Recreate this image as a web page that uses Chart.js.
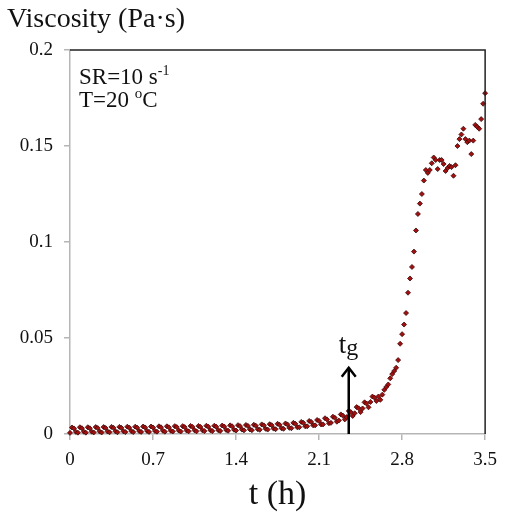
<!DOCTYPE html>
<html>
<head>
<meta charset="utf-8">
<script src="https://cdn.jsdelivr.net/npm/chart.js@4/dist/chart.umd.min.js"></script>
<style>
  html, body { margin: 0; padding: 0; background: #fff; }
  canvas { display: block; }
</style>
</head>
<body>
<canvas id="grafico" width="506" height="522"></canvas>
<script>
// viscosity readings, one per minute from t = 0 to 3.5 h
const minutesPerSample = 1;
const viscosity = [
  0.0006, 0.0034, 0.0029, 0.0011,
  0.0007, 0.0035, 0.0030, 0.0012,
  0.0007, 0.0035, 0.0030, 0.0012,
  0.0008, 0.0036, 0.0031, 0.0013,
  0.0008, 0.0036, 0.0031, 0.0013,
  0.0009, 0.0037, 0.0032, 0.0014,
  0.0009, 0.0037, 0.0032, 0.0014,
  0.0010, 0.0038, 0.0033, 0.0015,
  0.0010, 0.0038, 0.0033, 0.0015,
  0.0011, 0.0039, 0.0034, 0.0016,
  0.0011, 0.0039, 0.0034, 0.0016,
  0.0012, 0.0040, 0.0035, 0.0017,
  0.0012, 0.0040, 0.0035, 0.0017,
  0.0013, 0.0041, 0.0036, 0.0018,
  0.0013, 0.0041, 0.0036, 0.0018,
  0.0014, 0.0042, 0.0037, 0.0019,
  0.0014, 0.0042, 0.0037, 0.0019,
  0.0015, 0.0043, 0.0038, 0.0020,
  0.0015, 0.0043, 0.0038, 0.0020,
  0.0016, 0.0044, 0.0039, 0.0021,
  0.0017, 0.0045, 0.0040, 0.0022,
  0.0018, 0.0046, 0.0041, 0.0023,
  0.0019, 0.0047, 0.0042, 0.0024,
  0.0020, 0.0048, 0.0043, 0.0025,
  0.0022, 0.0050, 0.0045, 0.0027,
  0.0023, 0.0051, 0.0046, 0.0028,
  0.0025, 0.0053, 0.0048, 0.0030,
  0.0027, 0.0055, 0.0050, 0.0032,
  0.0030, 0.0058, 0.0053, 0.0035,
  0.0035, 0.0063, 0.0058, 0.0040,
  0.0040, 0.0068, 0.0063, 0.0045,
  0.0045, 0.0073, 0.0068, 0.0050,
  0.0050, 0.0082, 0.0076, 0.0056,
  0.0058, 0.0090, 0.0084, 0.0064,
  0.0070, 0.0102, 0.0096, 0.0076,
  0.0088, 0.0120, 0.0114, 0.0094,
  0.0108, 0.0140, 0.0134, 0.0114,
  0.0133, 0.0165, 0.0159, 0.0139,
  0.0167, 0.0195, 0.0190, 0.0172,
  0.0195, 0.0178, 0.0205, 0.0230,
  0.0245, 0.0258, 0.0290, 0.0312,
  0.0328, 0.0345, 0.0385, 0.0470,
  0.0520, 0.0570, 0.0630, 0.0736,
  0.0810, 0.0870, 0.0950, 0.1060,
  0.1146, 0.1200, 0.1250, 0.1320,
  0.1375, 0.1360, 0.1375, 0.1410,
  0.1440, 0.1427, 0.1380, 0.1427,
  0.1427, 0.1406, 0.1370, 0.1385,
  0.1396, 0.1390, 0.1345, 0.1400,
  0.1500, 0.1536, 0.1560, 0.1590,
  0.1536, 0.1520, 0.1528, 0.1458,
  0.1528, 0.1610, 0.1600, 0.1590,
  0.1640, 0.1720, 0.1775
];
const xTicks = [0, 0.7, 1.4, 2.1, 2.8, 3.5];
const yTicks = [0, 0.05, 0.1, 0.15, 0.2];
const gelTime = 2.35;
const arrowTop = 0.035;

const serif = "'Liberation Serif', 'Times New Roman', 'DejaVu Serif', serif";

const pontos = viscosity.map((v, i) => ({ x: i * minutesPerSample / 60, y: v }));

const extras = {
  id: 'extras',
  afterDraw(chart) {
    const ctx = chart.ctx;
    const a = chart.chartArea;
    const xs = chart.scales.x, ys = chart.scales.y;
    ctx.save();
    // top and right frame
    ctx.strokeStyle = '#222';
    ctx.lineWidth = 1.5;
    ctx.beginPath();
    ctx.moveTo(a.left, a.top);
    ctx.lineTo(a.right, a.top);
    ctx.lineTo(a.right, a.bottom);
    ctx.stroke();

    // gel time arrow
    const ax = xs.getPixelForValue(gelTime);
    const y0 = ys.getPixelForValue(0);
    const y1 = ys.getPixelForValue(arrowTop);
    ctx.strokeStyle = '#000';
    ctx.lineWidth = 2.5;
    ctx.beginPath();
    ctx.moveTo(ax, y0);
    ctx.lineTo(ax, y1 + 1);
    ctx.stroke();
    ctx.beginPath();
    ctx.moveTo(ax - 7, y1 + 10);
    ctx.lineTo(ax, y1 + 1);
    ctx.lineTo(ax + 7, y1 + 10);
    ctx.stroke();

    ctx.fillStyle = '#111';
    ctx.textBaseline = 'alphabetic';
    ctx.textAlign = 'left';
    ctx.font = '27px ' + serif;
    ctx.fillText('t', ax - 10, y1 - 14);
    const tw = ctx.measureText('t').width;
    ctx.font = '24px ' + serif;
    ctx.fillText('g', ax - 10 + tw, y1 - 12);

    // y axis title
    ctx.font = '28px ' + serif;
    ctx.fillText('Viscosity (Pa\u00b7s)', 7, 27);

    // conditions
    ctx.font = '23px ' + serif;
    let s = 'SR=10 s';
    ctx.fillText(s, 79, 84);
    let w = ctx.measureText(s).width;
    ctx.font = '14px ' + serif;
    ctx.fillText('-1', 79 + w, 75);
    ctx.font = '23px ' + serif;
    s = 'T=20 ';
    ctx.fillText(s, 79, 107);
    w = ctx.measureText(s).width;
    ctx.font = '15px ' + serif;
    ctx.fillText('o', 79 + w, 98);
    const ow = ctx.measureText('o').width;
    ctx.font = '23px ' + serif;
    ctx.fillText('C', 79 + w + ow, 107);
    ctx.restore();
  }
};

new Chart(document.getElementById('grafico').getContext('2d'), {
  type: 'scatter',
  data: {
    datasets: [{
      data: pontos,
      pointStyle: 'rectRot',
      radius: 2.5,
      backgroundColor: '#a30f0f',
      borderColor: '#3c0808',
      borderWidth: 0.8,
      clip: false
    }]
  },
  options: {
    responsive: false,
    animation: false,
    layout: { padding: { top: 50, right: 16, bottom: 7, left: 0 } },
    plugins: { legend: { display: false }, tooltip: { enabled: false } },
    scales: {
      x: {
        type: 'linear',
        min: 0,
        max: 3.5,
        afterBuildTicks: s => { s.ticks = xTicks.map(v => ({ value: v })); },
        afterFit: s => { s.height = 81; },
        ticks: {
          callback: v => String(v),
          font: { family: serif, size: 19 },
          color: '#111',
          padding: 9,
          maxRotation: 0,
          autoSkip: false
        },
        grid: { drawOnChartArea: false, tickLength: 6, color: '#b5b5b5', lineWidth: 1.5 },
        border: { color: '#b5b5b5', width: 1.5 },
        title: { display: true, text: 't (h)', font: { family: serif, size: 34 }, color: '#111', padding: 0 }
      },
      y: {
        min: 0,
        max: 0.2,
        afterBuildTicks: s => { s.ticks = yTicks.map(v => ({ value: v })); },
        afterFit: s => { s.width = 70; },
        ticks: {
          callback: v => String(v),
          font: { family: serif, size: 19 },
          color: '#111',
          padding: 11
        },
        grid: { drawOnChartArea: false, tickLength: 6, color: '#b5b5b5', lineWidth: 1.5 },
        border: { color: '#b5b5b5', width: 1.5 }
      }
    }
  },
  plugins: [extras]
});
</script>
</body>
</html>
